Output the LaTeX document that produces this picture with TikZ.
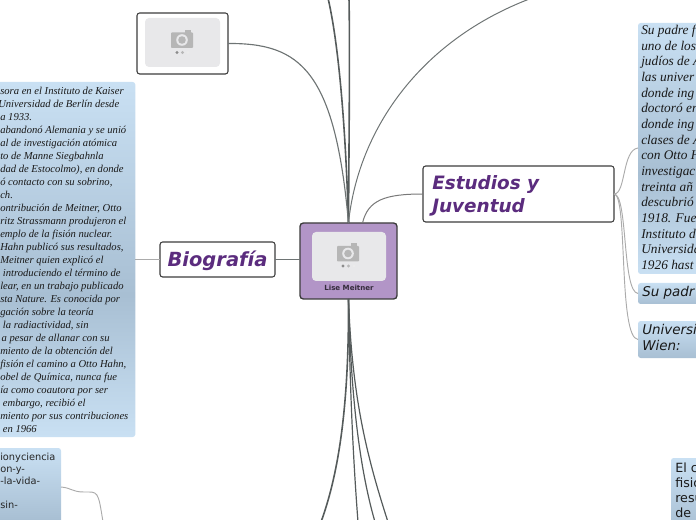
\documentclass[tikz,border=0pt]{standalone}
\usepackage{fontspec}
\setmainfont{Liberation Serif}
\newfontfamily\djv{DejaVu Sans}
\definecolor{titlepurple}{HTML}{5B2C7E}
\definecolor{hubpurple}{HTML}{B295C7}
\definecolor{edgedark}{HTML}{3C3C3C}
\definecolor{linkdark}{HTML}{555B5B}
\definecolor{linkgrey}{HTML}{ABABAB}
\definecolor{placeholder}{HTML}{E8E8EA}
\definecolor{iconline}{HTML}{B6B6B6}
\definecolor{noteL}{HTML}{C9E0F3}
\definecolor{noteD}{HTML}{A8BFD3}
\pgfdeclareverticalshading{noteshade}{100bp}{color(0bp)=(noteL); color(25bp)=(noteL); color(45bp)=(noteD); color(75bp)=(noteL); color(100bp)=(noteL)}
\pgfdeclareverticalshading{smallshade}{100bp}{color(0bp)=(noteD); color(25bp)=(noteD); color(75bp)=(noteL); color(100bp)=(noteL)}
\tikzset{
  notebox/.style={shade,shading=noteshade,rounded corners=2pt,inner sep=0pt,outer sep=0pt},
  smallbox/.style={shade,shading=smallshade,rounded corners=2pt,inner sep=0pt,outer sep=0pt},
  titlebox/.style={draw=edgedark,line width=0.8pt,fill=white,rounded corners=2pt,inner sep=0pt,outer sep=0pt},
  imgbox/.style={fill=placeholder,rounded corners=3pt,inner sep=0pt,outer sep=0pt},
  titletext/.style={font=\djv\bfseries\itshape\fontsize{14.6pt}{17.25pt}\selectfont,text=titlepurple,align=left,inner sep=0pt},
  serifnote/.style={font=\itshape\fontsize{7.95pt}{9.75pt}\selectfont,text=black!90,align=left,inner sep=0pt,anchor=north west},
  sansnote/.style={font=\djv\itshape\fontsize{10.1pt}{12pt}\selectfont,text=black!90,align=left,inner sep=0pt,anchor=north west},
  plainnote/.style={font=\djv\fontsize{7.35pt}{9pt}\selectfont,text=black!85,align=left,inner sep=0pt,anchor=north west},
  plainnoteb/.style={font=\djv\fontsize{9.5pt}{11.25pt}\selectfont,text=black!90,align=left,inner sep=0pt,anchor=north west},
  heavylink/.style={draw=linkdark,line width=1.2pt},
  thinlink/.style={draw=linkgrey,line width=0.7pt},
  midlink/.style={draw=linkdark!85,line width=0.75pt},
  pics/camicon/.style={code={
    \fill[iconline,rounded corners=0.6pt] (-11,-7.5) rectangle (11,8);
    \fill[iconline] (3,-10) rectangle (9,-7);
    \fill[placeholder] (0,0) circle (5.8);
    \fill[iconline] (0,0) circle (3.8);
    \fill[black!45] (-5,12.5) circle (1.7);
    \fill[black!28] (0.5,12.5) circle (1.7);
    \fill[black!8] (6,12.5) circle (1.7);
  }}
}
\begin{document}
\begin{tikzpicture}[x=0.75pt,y=-0.75pt]
\useasboundingbox (0,0) rectangle (696,520);
\clip (0,0) rectangle (696,520);

% free ends of connectors beyond the frame
\coordinate (topA) at (328,-2);
\coordinate (topB) at (349,-2);
\coordinate (topC) at (532,-2);
\coordinate (botA) at (321,522);
\coordinate (botB) at (358,522);
\coordinate (botC) at (375,522);
\coordinate (botD) at (388,522);
\coordinate (lowEnd) at (103,522);

% note boxes
\node[notebox,minimum width=236pt,minimum height=266.25pt] (bioNote) at (-22,259.5) {};
\node[notebox,minimum width=90pt,minimum height=188.25pt] (famNote) at (698,148.5) {};
\node[smallbox,minimum width=60pt,minimum height=15.75pt] (padreNote) at (678,293.5) {};
\node[smallbox,minimum width=60pt,minimum height=27.75pt] (uniNote) at (678,339.5) {};
\node[notebox,minimum width=90pt,minimum height=90pt] (linkNote) at (1,508) {};
\node[notebox,minimum width=60pt,minimum height=90pt] (fisNote) at (711,518) {};

% title boxes
\node[titlebox,minimum width=86.25pt,minimum height=26.25pt] (bio) at (217.5,259.5) {};
\node[titlebox,minimum width=143.25pt,minimum height=42pt] (est) at (518.5,194) {};
\node[titlebox,minimum width=68.25pt,minimum height=45.75pt] (imgNode) at (182.5,43.5) {};
\node[draw=edgedark,line width=1pt,fill=hubpurple,rounded corners=2.5pt,inner sep=0pt,outer sep=0pt,minimum width=72.75pt,minimum height=57pt] (hub) at (348.5,261) {};

% connectors
\draw[heavylink] (hub.north) .. controls (346,140) and (340,50) .. (topA);
\draw[heavylink] (hub.north) .. controls (349,140) and (350,50) .. (topB);
\draw[midlink] (hub.north) .. controls (358,130) and (420,40) .. (topC);
\draw[midlink,line width=0.85pt] (imgNode.east) .. controls (300,43) and (335,70) .. (hub.north);
\draw[midlink,draw=linkgrey!70!black] (est.west) .. controls (385,194) and (368,200) .. ([xshift=10.5pt]hub.north);
\draw[midlink] (hub.west |- bio.east) -- (bio.east);
\draw[thinlink] (bio.west) -- (bio.west -| bioNote.east);
\draw[heavylink] (hub.south) .. controls (349,400) and (340,470) .. (botA);
\draw[heavylink,line width=0.9pt] (hub.south) .. controls (350,400) and (354,470) .. (botB);
\draw[heavylink,line width=0.9pt] (hub.south) .. controls (351,400) and (360,470) .. (botC);
\draw[heavylink,line width=0.9pt] (hub.south) .. controls (352,400) and (368,460) .. (botD);
\draw[thinlink] (est.east) .. controls (626,194) and (622,150) .. (famNote.west |- 0,148);
\draw[thinlink] (est.east) .. controls (628,194) and (622,292) .. (padreNote.west);
\draw[thinlink] (est.east) .. controls (628,194) and (618,338) .. (uniNote.west);
\draw[thinlink] (linkNote.east |- 0,487) .. controls (72,488) and (72,492) .. (84,492)
  .. controls (98,492) and (98,490) .. (lowEnd);

% image placeholders
\node[imgbox,minimum width=55.5pt,minimum height=36.75pt] (hubImg) at (349,256.5) {};
\node[imgbox,minimum width=56.25pt,minimum height=36.75pt] (topImg) at (182.5,42.5) {};
\pic at (348,253.5) {camicon};
\pic at (182,40) {camicon};

% texts
\node[font=\djv\bfseries\fontsize{5.3pt}{6pt}\selectfont,text=black!70!hubpurple,inner sep=0pt] (hubLabel) at (349,287.5) {Lise Meitner};
\node[titletext] (bioText) at (217.5,260.5) {Biografía};
\node[titletext,font=\djv\bfseries\itshape\fontsize{13.8pt}{17.25pt}\selectfont,anchor=north west] (estText) at (432,175.5) {Estudios y\\Juventud};

\node[serifnote] (bioBody) at (0,86.5) {sora en el Instituto de Kaiser\\
\hspace*{-1.5pt}Universidad de Berlín desde\\
a 1933.\\
abandonó Alemania y se unió\\
al de investigación atómica\\
to de Manne Siegbahnla\\
dad de Estocolmo), en donde\\
ó contacto con su sobrino,\\
ch.\\
ontribución de Meitner, Otto\\
ritz Strassmann produjeron el\\
emplo de la fisión nuclear.\\
Hahn publicó sus resultados,\\
Meitner quien explicó el\\
\hspace*{2pt}introduciendo el término de\\
lear, en un trabajo publicado\\
sta Nature. Es conocida por\\
gación sobre la teoría\\
\hspace*{2pt}la radiactividad, sin\\
\hspace*{1pt}a pesar de allanar con su\\
miento de la obtención del\\
fisión el camino a Otto Hahn,\\
obel de Química, nunca fue\\
ía como coautora por ser\\
\hspace*{2pt}embargo, recibió el\\
miento por sus contribuciones\\
\hspace*{2pt}en 1966};

\node[serifnote,font=\itshape\fontsize{10pt}{11.75pt}\selectfont] (famBody) at (641,25) {Su padre f\\
uno de los\\
judíos de A\\
las univer\\
donde ing\\
doctoró en\\
donde ing\\
clases de A\\
con Otto H\\
investigac\\
treinta añ\\
descubrió\\
1918. Fue\\
Instituto d\\
Universida\\
1926 hast};

\node[sansnote] (padreText) at (642,286) {Su padr};
\node[sansnote] (uniText) at (642,324.5) {Universi\\Wien:};
\node[plainnote] (linkText) at (0,452.5) {ionyciencia\\on-y-\\-la-vida-\\ \\sin-};
\node[plainnoteb] (fisText) at (675,462.5) {El c\\fisic\\resu\\de i};
\end{tikzpicture}
\end{document}
